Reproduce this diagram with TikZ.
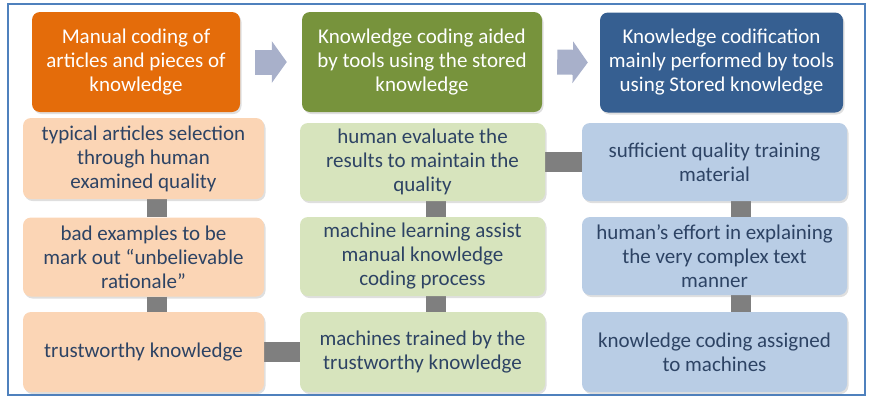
\documentclass[tikz,border=0pt]{standalone}
\usepackage{fontspec}
\setmainfont{Carlito}
\usepackage{xcolor}
\usepackage{tikz}
\usetikzlibrary{arrows.meta, positioning, shadows, backgrounds}

\definecolor{hdorange}{HTML}{E46C0A}
\definecolor{hdgreen}{HTML}{77933C}
\definecolor{hdblue}{HTML}{365F91}
\definecolor{peach}{HTML}{FBD5B5}
\definecolor{palegreen}{HTML}{D7E4BD}
\definecolor{paleblue}{HTML}{B9CDE5}
\definecolor{itemtext}{RGB}{45,67,100}
\definecolor{linkgray}{HTML}{7F7F7F}
\definecolor{flowgray}{RGB}{168,176,202}
\definecolor{frameblue}{HTML}{4F81BD}

\begin{document}
\begin{tikzpicture}[
  x=1pt, y=-1pt,
  block/.style={rounded corners=8pt, align=center, inner sep=2pt, font=\fontsize{21}{24}\selectfont,
    drop shadow={opacity=0.25, shadow xshift=1.5pt, shadow yshift=-2pt}},
  head/.style={block, text=white, minimum height=100pt},
  item/.style={block, text=itemtext, minimum height=79pt},
  link/.style={line width=20pt, draw=linkgray},
  flow/.style={-{Triangle[width=41pt,length=15pt]}, line width=25pt, draw=flowgray},
]
  \useasboundingbox (0,0) rectangle (869,402);
  \draw[frameblue, line width=1.5pt] (8,4) rectangle (865,395);

  % Stage headers
  \node[head, fill=hdorange, minimum width=208pt] (hd1) at (136,62) {Manual coding of\\articles and pieces of\\knowledge};
  \node[head, fill=hdgreen, minimum width=240pt] (hd2) at (422,62) {Knowledge coding aided\\by tools using the stored\\knowledge};
  \node[head, fill=hdblue, minimum width=243pt] (hd3) at (721.5,62.5) {Knowledge codification\\mainly performed by tools\\using Stored knowledge};

  % Stage arrows
  \draw[flow] ([xshift=15pt]hd1.east) -- ([xshift=-15pt]hd2.west);
  \draw[flow] ([xshift=15pt]hd2.east) -- ([xshift=-12pt]hd3.west);

  % Manual coding
  \node[item, fill=peach, minimum width=241pt, minimum height=81pt] (m1) at (143.5,158.5) {typical articles selection\\through human\\examined quality};
  \node[item, fill=peach, minimum width=241pt] (m2) at (143.5,257) {bad examples to be\\mark out “unbelievable\\rationale”};
  \node[item, fill=peach, minimum width=241pt, minimum height=80pt] (m3) at (143.5,352) {trustworthy knowledge};

  % Tool aided coding
  \node[item, fill=palegreen, minimum width=245pt, minimum height=78pt] (t1) at (422.5,162) {human evaluate the\\results to maintain the\\quality};
  \node[item, fill=palegreen, minimum width=245pt] (t2) at (422.5,256.5) {machine learning assist\\manual knowledge\\coding process};
  \node[item, fill=palegreen, minimum width=245pt, minimum height=80pt] (t3) at (422.5,352) {machines trained by the\\trustworthy knowledge};

  % Tool codification
  \node[item, fill=paleblue, minimum width=265pt, minimum height=78pt] (s1) at (714.5,162) {sufficient quality training\\material};
  \node[item, fill=paleblue, minimum width=265pt, minimum height=78pt] (s2) at (714.5,256) {human’s effort in explaining\\the very complex text\\manner};
  \node[item, fill=paleblue, minimum width=265pt, minimum height=80pt] (s3) at (714.5,352) {knowledge coding assigned\\to machines};

  % Connecting bars
  \begin{scope}[on background layer]
    \draw[link] ([xshift=13.5pt]m1.south) -- ([xshift=13.5pt]m2.north);
    \draw[link] ([xshift=13.5pt]m2.south) -- ([xshift=13.5pt]m3.north);
    \draw[link] ([xshift=13.5pt]t1.south) -- ([xshift=13.5pt]t2.north);
    \draw[link] ([xshift=13.5pt]t2.south) -- ([xshift=13.5pt]t3.north);
    \draw[link] ([xshift=26.5pt]s1.south) -- ([xshift=26.5pt]s2.north);
    \draw[link] ([xshift=26.5pt]s2.south) -- ([xshift=26.5pt]s3.north);
    \draw[link] (m3) -- (t3);
    \draw[link] (t1) -- (s1);
  \end{scope}
\end{tikzpicture}
\end{document}
